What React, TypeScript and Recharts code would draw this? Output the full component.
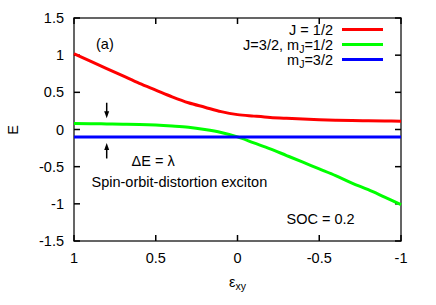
import React from 'react';
import { LineChart, Line, XAxis, YAxis, Customized } from 'recharts';

// ---- data ----
const eps = [1, 0.9, 0.8, 0.7, 0.6, 0.5, 0.4, 0.3, 0.2, 0.1, 0, -0.1, -0.2, -0.3, -0.4, -0.5, -0.6, -0.7, -0.8, -0.9, -1];
const jHalf = [1.02, 0.92, 0.82, 0.72, 0.62, 0.53, 0.44, 0.36, 0.3, 0.24, 0.2, 0.18, 0.162, 0.15, 0.14, 0.132, 0.126, 0.121, 0.118, 0.115, 0.112];
const jThreeHalfM1 = [0.08, 0.078, 0.075, 0.072, 0.068, 0.06, 0.047, 0.03, 0.0, -0.04, -0.1, -0.18, -0.26, -0.35, -0.44, -0.53, -0.62, -0.72, -0.81, -0.91, -1.01];
const jThreeHalfM3 = [-0.1, -0.1, -0.1, -0.1, -0.1, -0.1, -0.1, -0.1, -0.1, -0.1, -0.1, -0.1, -0.1, -0.1, -0.1, -0.1, -0.1, -0.1, -0.1, -0.1, -0.1];

const xTicks = [1, 0.5, 0, -0.5, -1];
const yTicks = [-1.5, -1, -0.5, 0, 0.5, 1, 1.5];

const series = [
  { key: 'a', values: jHalf, color: '#ff0000', label: ['J = 1/2'] },
  { key: 'b', values: jThreeHalfM1, color: '#00ff00', label: ['J=3/2, m', 'J', '=1/2'] },
  { key: 'c', values: jThreeHalfM3, color: '#0000ff', label: ['m', 'J', '=3/2'] },
];

const data = eps.map((e, i) => {
  const row: any = { eps: e };
  series.forEach((s) => { row[s.key] = s.values[i]; });
  return row;
});

// ---- layout ----
const W = 436;
const H = 305;
const MARGIN = { top: 18, right: 35, left: 0, bottom: 0 };
const YW = 74;
const XH = 64;
const PLOT = { left: 74, top: 18, width: 327, height: 223 };
const FONT = '"Liberation Sans", Arial, Helvetica, sans-serif';
const FS = 14.5;
const TICK = 6;
const FRAME = '#333';

const px = (x: number) => PLOT.left + ((1 - x) / 2) * PLOT.width;
const py = (y: number) => PLOT.top + ((1.5 - y) / 3) * PLOT.height;

const fmt = (v: number) => String(v);

const BottomTick = (p: any) => (
  <text x={p.x} y={p.y + 17} textAnchor="middle" dominantBaseline="central" fontSize={FS} fontFamily={FONT} fill="#000">
    {fmt(p.payload.value)}
  </text>
);
const LeftTick = (p: any) => (
  <text x={p.x - 10} y={p.y} textAnchor="end" dominantBaseline="central" fontSize={FS} fontFamily={FONT} fill="#000">
    {fmt(p.payload.value)}
  </text>
);

const Arrow = ({ x, y1, y2 }: { x: number; y1: number; y2: number }) => {
  const X = px(x);
  const A = py(y1);
  const B = py(y2);
  const dir = B > A ? 1 : -1;
  return (
    <g>
      <line x1={X} y1={A} x2={X} y2={B - dir * 5} stroke="#000" strokeWidth={1.5} />
      <polygon points={`${X - 2.5},${B - dir * 7} ${X + 2.5},${B - dir * 7} ${X},${B}`} fill="#000" />
    </g>
  );
};

const Annotations = () => {
  const legX = 333;
  const legY0 = 29.5;
  const L = PLOT.left;
  const R = PLOT.left + PLOT.width;
  const T = PLOT.top;
  const B = PLOT.top + PLOT.height;
  return (
    <g fontFamily={FONT} fontSize={FS}>
      <rect x={L} y={T} width={PLOT.width} height={PLOT.height} fill="none" stroke={FRAME} strokeWidth={1.5} />
      {xTicks.map((t, i) => (
        <g key={'tx' + i}>
          <line x1={px(t)} x2={px(t)} y1={T} y2={T + TICK} stroke="#000" strokeWidth={1.5} />
          <line x1={px(t)} x2={px(t)} y1={B} y2={B - TICK} stroke="#000" strokeWidth={1.5} />
        </g>
      ))}
      {yTicks.map((t, i) => (
        <g key={'ty' + i}>
          <line x1={L} x2={L + TICK} y1={py(t)} y2={py(t)} stroke="#000" strokeWidth={1.5} />
          <line x1={R} x2={R - TICK} y1={py(t)} y2={py(t)} stroke="#000" strokeWidth={1.5} />
        </g>
      ))}
      {series.map((s, i) => (
        <g key={s.key}>
          <text x={legX} y={legY0 + i * 15} textAnchor="end" dominantBaseline="central" fill="#000">
            {s.label.length === 1 ? (
              s.label[0]
            ) : (
              <>
                <tspan>{s.label[0]}</tspan>
                <tspan fontSize={10.5} dy={4}>{s.label[1]}</tspan>
                <tspan dy={-4}>{s.label[2]}</tspan>
              </>
            )}
          </text>
          <line x1={342} x2={383} y1={legY0 + i * 15} y2={legY0 + i * 15} stroke={s.color} strokeWidth={3} />
        </g>
      ))}
      <text x={96} y={43.5} dominantBaseline="central" fill="#000">(a)</text>
      <text x={131.5} y={160.7} dominantBaseline="central" fill="#000">ΔE = λ</text>
      <text x={91.5} y={182.3} dominantBaseline="central" fill="#000">Spin-orbit-distortion exciton</text>
      <text x={286.5} y={219.3} dominantBaseline="central" fill="#000">SOC = 0.2</text>
      <Arrow x={0.8} y1={0.36} y2={0.15} />
      <Arrow x={0.8} y1={-0.39} y2={-0.18} />
      <text x={13} y={130} textAnchor="middle" dominantBaseline="central" transform="rotate(-90 13 130)" fill="#000">E</text>
      <text x={237.5} y={281.7} textAnchor="middle" dominantBaseline="central" fill="#000">
        <tspan>ε</tspan>
        <tspan fontSize={10.5} dy={4}>xy</tspan>
      </text>
    </g>
  );
};

export default function App() {
  return (
    <div style={{ position: 'absolute', left: 0, top: 0, width: W, height: H, background: '#fff' }}>
      <LineChart width={W} height={H} data={data} margin={MARGIN}>
        <XAxis
          dataKey="eps"
          type="number"
          domain={[-1, 1]}
          reversed
          ticks={xTicks}
          orientation="bottom"
          height={XH}
          tickSize={0}
          tickMargin={0}
          tickLine={false}
          axisLine={false}
          tick={<BottomTick />}
          interval={0}
        />
        <YAxis
          type="number"
          domain={[-1.5, 1.5]}
          ticks={yTicks}
          orientation="left"
          width={YW}
          tickSize={0}
          tickMargin={0}
          tickLine={false}
          axisLine={false}
          tick={<LeftTick />}
          interval={0}
        />
        {series.map((s) => (
          <Line
            key={s.key}
            type="monotone"
            dataKey={s.key}
            stroke={s.color}
            strokeWidth={3}
            dot={false}
            isAnimationActive={false}
          />
        ))}
        <Customized component={Annotations} />
      </LineChart>
    </div>
  );
}
